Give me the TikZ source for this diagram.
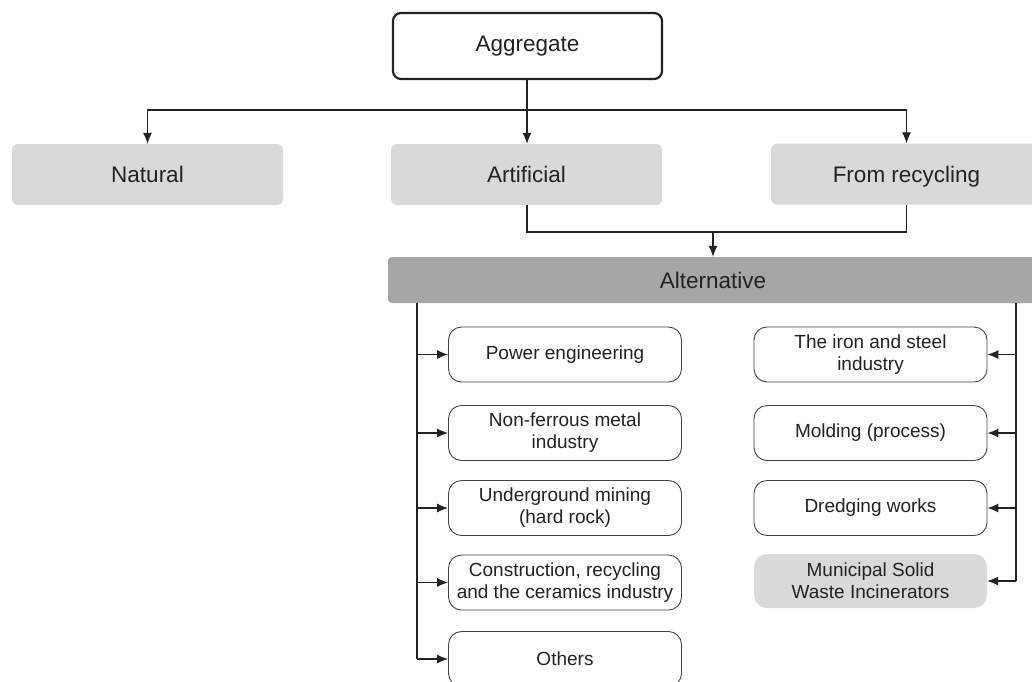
\documentclass[tikz,border=0pt]{standalone}
\usepackage{fontspec}
\setmainfont{Liberation Sans}
\usetikzlibrary{arrows.meta}
\definecolor{lightbox}{HTML}{D9D9D9}
\definecolor{darkbar}{HTML}{A6A6A6}
\definecolor{ink}{HTML}{222222}
\begin{document}
\begin{tikzpicture}[x=1pt,y=-1pt,
  every node/.style={text=ink, font=\fontsize{19}{22}\selectfont, align=center, inner sep=0pt},
  topbox/.style={draw=ink, line width=2.2pt, rounded corners=8pt, minimum width=269pt, minimum height=66pt, font=\fontsize{22.5}{26}\selectfont},
  graybox/.style={fill=lightbox, rounded corners=6pt, minimum width=271pt, minimum height=61pt, font=\fontsize{22.5}{26}\selectfont},
  altbar/.style={fill=darkbar, rounded corners=4pt, minimum width=650pt, minimum height=46pt, font=\fontsize{22.5}{26}\selectfont},
  leafbox/.style={draw=ink!85, line width=0.9pt, rounded corners=13pt, minimum width=233pt, minimum height=55pt},
  leafgray/.style={fill=lightbox, rounded corners=13pt, minimum width=233pt, minimum height=54pt},
  conn/.style={draw=ink, line width=1.1pt},
  arr/.style={conn, -{Latex[length=11pt,width=9pt]}}
]
\clip (0,0) rectangle (1032,681);
\fill[white] (0,0) rectangle (1032,681);

\node[topbox] (agg) at (527.5,46) {Aggregate};
\node[graybox] (nat) at (147.5,174.5) {Natural};
\node[graybox] (art) at (526.5,174.5) {Artificial};
\node[graybox, text depth=0pt] (rec) at (906.5,174) {From recycling};
\node[altbar] (alt) at (713,280) {Alternative};

\node[leafbox] (pow) at (565,354.5) {Power engineering};
\node[leafbox] (nfm) at (565,433) {Non-ferrous metal\\industry};
\node[leafbox] (und) at (565,508) {Underground mining\\(hard rock)};
\node[leafbox] (con) at (565,582.5) {Construction, recycling\\and the ceramics industry};
\node[leafbox] (oth) at (565,659) {Others};

\node[leafbox] (iro) at (870.5,354.5) {The iron and steel\\industry};
\node[leafbox] (mol) at (870.5,433) {Molding (process)};
\node[leafbox] (dre) at (870.5,508) {Dredging works};
\node[leafgray] (msw) at (870.5,581) {Municipal Solid\\Waste Incinerators};

\coordinate (hub) at (527,110);
\coordinate (join) at (713,232);
\coordinate (lbus) at (417,303);
\coordinate (rbus) at (1016,303);

\draw[conn] (agg.south -| hub) -- (hub);
\draw[arr] (hub) -| (nat.north);
\draw[arr] (hub) -- (art.north -| hub);
\draw[arr] (hub) -| (rec.north);

\draw[conn] (art.south -| hub) |- (join);
\draw[conn] (rec.south) |- (join);
\draw[arr] (join) -- (alt.north);

\draw[conn] (lbus) -- (lbus |- oth.west);
\foreach \n in {pow,nfm,und,con,oth}
  \draw[arr] (lbus |- \n.west) -- (\n.west);

\draw[conn] (rbus) -- (rbus |- msw.east);
\foreach \n in {iro,mol,dre,msw}
  \draw[arr] (rbus |- \n.east) -- (\n.east);
\end{tikzpicture}
\end{document}
